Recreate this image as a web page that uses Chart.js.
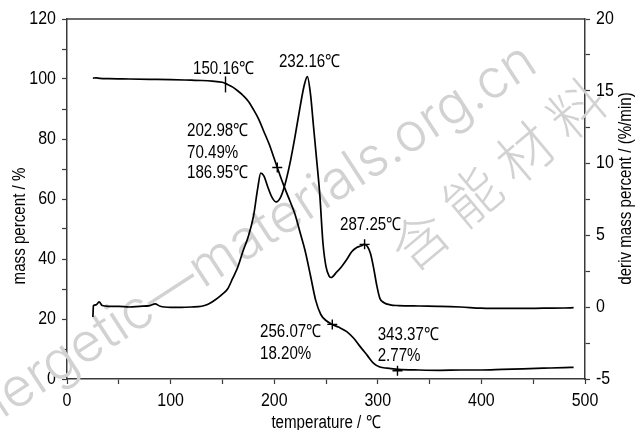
<!DOCTYPE html>
<html>
<head>
<meta charset="utf-8">
<script src="https://cdn.jsdelivr.net/npm/chart.js@4.4.1/dist/chart.umd.min.js"></script>
<style>
  html, body { margin: 0; padding: 0; background: #fff; }
  #wrap { width: 635px; height: 430px; position: relative; }
</style>
</head>
<body>
<div id="wrap"><canvas id="c"></canvas></div>
<script>
// ---- data ----
const tgTemp = [25, 28, 32, 40, 60, 80, 100, 120, 130, 140, 150, 155, 160, 165, 170, 175, 180, 185, 190, 195, 200, 203, 206, 210, 215, 220, 225, 230, 235, 240, 245, 250, 256, 262, 270, 277, 283, 290, 296, 302, 309, 320, 340, 360, 380, 400, 420, 440, 460, 480, 489];
const tgMass = [100.3, 100.4, 100.2, 100.1, 100.0, 99.9, 99.8, 99.6, 99.5, 99.3, 98.9, 98.2, 97.3, 96.0, 94.5, 92.6, 89.8, 86.6, 82.5, 78.4, 73.5, 70.5, 67.5, 63.8, 59.5, 55.0, 48.8, 42.5, 34.5, 26.3, 21.5, 19.5, 18.2, 17.3, 15.8, 13.5, 10.8, 7.8, 5.2, 4.0, 3.6, 3.2, 3.0, 2.9, 3.0, 3.0, 3.2, 3.4, 3.6, 3.8, 3.9];

const dtgTemp = [25, 25.5, 28, 31, 34, 40, 50, 60, 70, 80, 85, 90, 100, 110, 120, 130, 135, 140, 145, 150, 155, 160, 165, 170, 175, 180, 184, 187, 190, 194, 198, 202, 206, 210, 215, 220, 225, 229, 232, 235, 238, 241, 244, 247, 250, 253, 255, 260, 265, 270, 275, 280, 284, 287, 290, 293, 296, 299, 302, 306, 312, 320, 340, 360, 380, 400, 420, 440, 460, 480, 489];
const dtgRate = [-0.7, 0.1, 0.15, 0.35, 0.1, 0.05, 0.05, 0.0, 0.05, 0.1, 0.22, 0.05, -0.02, -0.02, 0.0, 0.05, 0.15, 0.35, 0.6, 0.9, 1.25, 2.0, 2.8, 3.9, 4.9, 6.3, 8.2, 9.3, 9.1, 8.3, 7.6, 7.3, 7.6, 8.4, 9.9, 11.8, 13.9, 15.4, 16.0, 14.8, 12.5, 10.2, 7.8, 4.5, 2.8, 2.15, 2.05, 2.4, 2.8, 3.3, 3.85, 4.15, 4.25, 4.35, 4.2, 3.7, 2.7, 1.5, 0.6, 0.3, 0.15, 0.1, 0.07, 0.05, 0.0, -0.08, -0.1, -0.1, -0.08, -0.07, -0.05];

// marked points
const tgMarkTemp = [202.98, 256.07, 319];
const tgMarkMass = [70.49, 18.20, 2.77];
const tgOnsetTemp = [153];
const tgOnsetMass = [98.2];
const dtgMarkTemp = [287.25];
const dtgMarkRate = [4.35];

// tick settings
const xTicks = [0, 100, 200, 300, 400, 500];
const yLeftTicks = [0, 20, 40, 60, 80, 100, 120];
const yRightTicks = [-5, 0, 5, 10, 15, 20];

// annotation texts, anchored in data units (temperature, mass %)
const annText = ["150.16℃", "232.16℃", "202.98℃", "70.49%", "186.95℃", "287.25℃", "256.07℃", "18.20%", "343.37℃", "2.77%"];
const annTemp = [121.6, 204.6, 115.8, 115.8, 115.8, 263.5, 186.3, 186.3, 299.9, 299.9];
const annMass = [103.2, 105.8, 82.5, 75.3, 68.7, 51.3, 15.5, 8.3, 14.5, 7.7];

const FONT = "'Liberation Sans', Arial, sans-serif";
const AXIS_COLOR = '#3a3a3a';
const NARROW = 0.84;

function zip(xs, ys) { return xs.map((x, i) => ({ x: x, y: ys[i] })); }

const canvas = document.getElementById('c');
const ctx0 = canvas.getContext('2d');
// condensed text rendering (reference uses a narrow sans face)
const nativeFill = ctx0.fillText;
ctx0.narrow = NARROW;
ctx0.fillText = function (t, x, y, maxW) {
  if (this.narrow === 1) {
    return maxW === undefined ? nativeFill.call(this, t, x, y) : nativeFill.call(this, t, x, y, maxW);
  }
  this.save();
  this.translate(x, y);
  this.scale(this.narrow, 1);
  nativeFill.call(this, t, 0, 0);
  this.restore();
};

const overlay = {
  id: 'overlay',
  beforeDatasetsDraw(chart) {
    const ctx = chart.ctx;
    ctx.save();
    ctx.narrow = 1;
    ctx.fillStyle = '#d2d2d2';
    ctx.font = "300 54px Inter, Lato, sans-serif";
    ctx.textAlign = 'right';
    ctx.textBaseline = 'alphabetic';
    ctx.translate(540, 70);
    ctx.rotate(-33 * Math.PI / 180);
    ctx.fillText('energetic—materials.org.cn', 0, 0);
    ctx.restore();
    ctx.save();
    ctx.narrow = 1;
    ctx.fillStyle = '#d2d2d2';
    ctx.font = "300 56px 'Noto Sans CJK SC', sans-serif";
    ctx.textAlign = 'left';
    ctx.textBaseline = 'middle';
    ctx.translate(398, 258);
    ctx.rotate(-40 * Math.PI / 180);
    ctx.fillText('含 能 材 料', 0, 0);
    ctx.restore();
    ctx.narrow = NARROW;
  },
  afterDraw(chart) {
    const ctx = chart.ctx;
    const a = chart.chartArea;
    const sx = chart.scales.x, sy = chart.scales.y;
    ctx.save();
    ctx.narrow = NARROW;
    // top frame line
    ctx.strokeStyle = AXIS_COLOR;
    ctx.lineWidth = 1.5;
    ctx.beginPath();
    ctx.moveTo(a.left, a.top);
    ctx.lineTo(a.right, a.top);
    ctx.stroke();
    // annotations
    ctx.fillStyle = '#000';
    ctx.font = '18px ' + FONT;
    ctx.textAlign = 'left';
    ctx.textBaseline = 'middle';
    annText.forEach((t, i) => {
      ctx.fillText(t, sx.getPixelForValue(annTemp[i]), sy.getPixelForValue(annMass[i]));
    });
    // axis titles
    ctx.textAlign = 'center';
    ctx.font = '18px ' + FONT;
    ctx.fillText('temperature / ℃', (a.left + a.right) / 2, 423);
    ctx.save();
    ctx.translate(20.5, 226);
    ctx.rotate(-Math.PI / 2);
    ctx.fillText('mass percent / %', 0, 0);
    ctx.restore();
    ctx.save();
    ctx.translate(626, 188.5);
    ctx.rotate(-Math.PI / 2);
    ctx.fillText('deriv mass percent / (%/min)', 0, 0);
    ctx.restore();
    ctx.restore();
  }
};

const tickFont = { family: FONT, size: 19 };
const gridCommon = { drawOnChartArea: false, drawTicks: true, tickLength: 5, color: AXIS_COLOR, tickColor: AXIS_COLOR, tickWidth: 1.2 };
const borderCommon = { display: true, color: AXIS_COLOR, width: 1.5 };

new Chart(canvas, {
  type: 'line',
  data: {
    datasets: [
      { label: 'mass', data: zip(tgTemp, tgMass), yAxisID: 'y', borderColor: '#000', borderWidth: 1.7, pointRadius: 0, cubicInterpolationMode: 'monotone', fill: false },
      { label: 'deriv', data: zip(dtgTemp, dtgRate), yAxisID: 'y1', borderColor: '#000', borderWidth: 1.7, pointRadius: 0, cubicInterpolationMode: 'monotone', fill: false },
      { label: 'tgMarks', data: zip(tgMarkTemp, tgMarkMass), yAxisID: 'y', showLine: false, pointStyle: 'cross', pointRadius: 5, borderColor: '#000', borderWidth: 1.4, backgroundColor: '#000' },
      { label: 'tgOnset', data: zip(tgOnsetTemp, tgOnsetMass), yAxisID: 'y', showLine: false, pointStyle: 'line', rotation: 90, pointRadius: 8, borderColor: '#000', borderWidth: 1.4 },
      { label: 'dtgMarks', data: zip(dtgMarkTemp, dtgMarkRate), yAxisID: 'y1', showLine: false, pointStyle: 'cross', pointRadius: 5, borderColor: '#000', borderWidth: 1.4 }
    ]
  },
  options: {
    responsive: true,
    maintainAspectRatio: false,
    animation: false,
    events: [],
    layout: { padding: { top: 19, left: 0, right: 0, bottom: 0 } },
    plugins: { legend: { display: false }, tooltip: { enabled: false } },
    scales: {
      x: {
        type: 'linear', min: 0, max: 500,
        ticks: { stepSize: 50, autoSkip: false, maxRotation: 0, color: '#000', font: tickFont, padding: 5,
          callback: v => xTicks.includes(v) ? String(v) : '' },
        grid: gridCommon, border: borderCommon,
        afterFit: s => { s.height = 51; }
      },
      y: {
        type: 'linear', position: 'left', min: 0, max: 120,
        ticks: { stepSize: 10, autoSkip: false, color: '#000', font: tickFont, padding: 6,
          callback: v => yLeftTicks.includes(v) ? String(v) : '' },
        grid: gridCommon, border: borderCommon,
        afterFit: s => { s.width = 67; }
      },
      y1: {
        type: 'linear', position: 'right', min: -5, max: 20,
        ticks: { stepSize: 2.5, autoSkip: false, color: '#000', font: tickFont, padding: 6,
          callback: v => yRightTicks.includes(v) ? String(v) : '' },
        grid: gridCommon, border: borderCommon,
        afterFit: s => { s.width = 50; }
      }
    }
  },
  plugins: [overlay]
});
</script>
</body>
</html>
